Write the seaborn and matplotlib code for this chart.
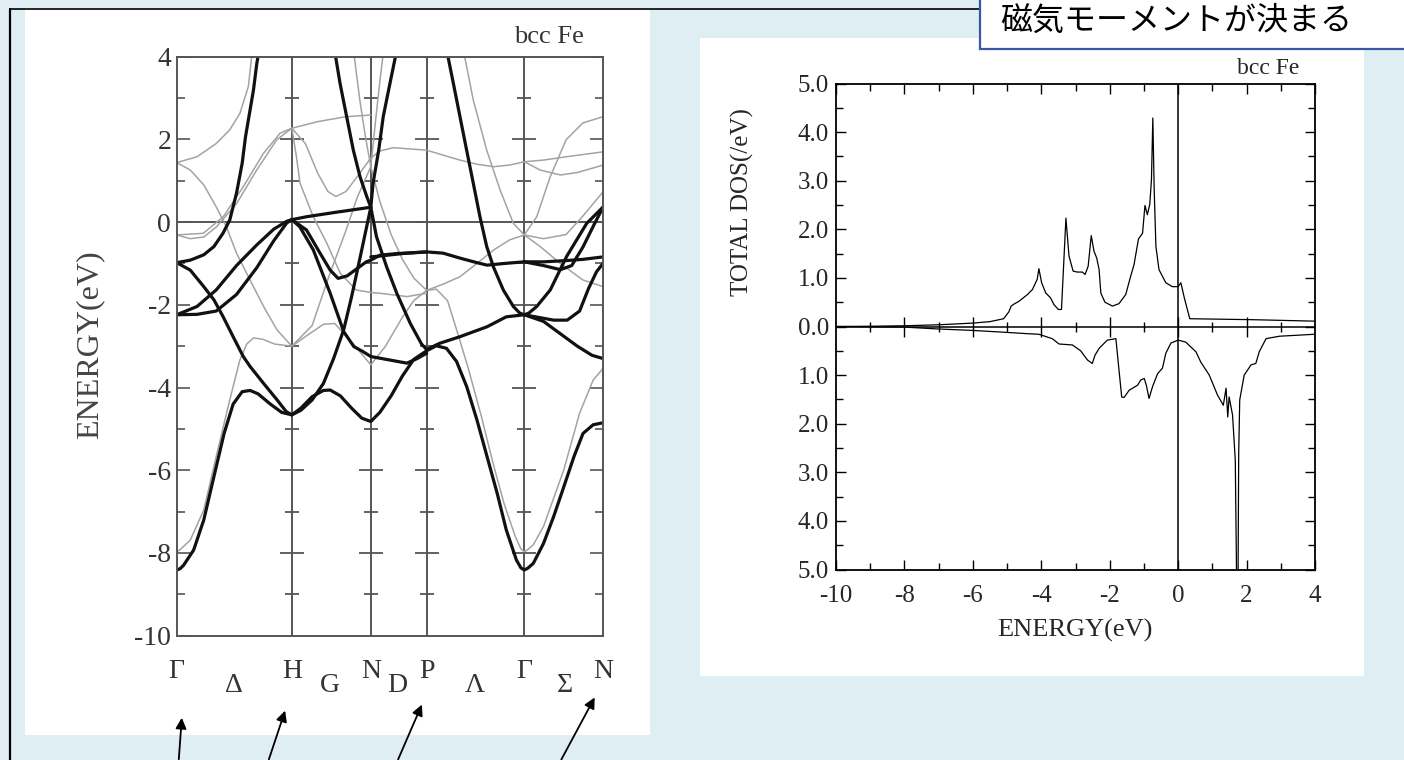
import matplotlib
matplotlib.use("Agg")
import matplotlib.pyplot as plt
import matplotlib.transforms as mtransforms
from matplotlib.patches import Rectangle, FancyArrowPatch
from matplotlib.lines import Line2D
from matplotlib.ticker import MultipleLocator, FuncFormatter
import numpy as np
import pandas as pd
import seaborn as sns

# ---------------------------------------------------------------- data
# symmetry points along the bcc path (k in 2pi/a)
K_SYM = [0.0, 1.02, 1.72, 2.215, 3.08, 3.78]
K_TOP_LABELS = ["Γ", "H", "N", "P", "Γ", "N"]
K_MID_POS = [0.508, 1.358, 1.952, 2.643, 3.441]
K_MID_LABELS = ["Δ", "G", "D", "Λ", "Σ"]

# majority-spin bands (black), (k, E[eV])
maj_1 = [(0.00, -8.41), (0.03, -8.38), (0.06, -8.30), (0.15, -7.93), (0.24, -7.20),
         (0.33, -6.15), (0.42, -5.11), (0.50, -4.40), (0.58, -4.10), (0.65, -4.07),
         (0.72, -4.15), (0.83, -4.40), (0.93, -4.60), (1.02, -4.66), (1.10, -4.50),
         (1.20, -4.22), (1.30, -4.07), (1.36, -4.06), (1.45, -4.20), (1.55, -4.50),
         (1.64, -4.74), (1.72, -4.82), (1.80, -4.60), (1.90, -4.20), (2.00, -3.72),
         (2.10, -3.32), (2.215, -3.11), (2.30, -2.99), (2.39, -3.05), (2.48, -3.37),
         (2.57, -3.98), (2.66, -4.78), (2.75, -5.67), (2.84, -6.56), (2.92, -7.44),
         (3.01, -8.17), (3.05, -8.36), (3.08, -8.41), (3.11, -8.37), (3.16, -8.25),
         (3.25, -7.77), (3.34, -7.12), (3.43, -6.40), (3.52, -5.67), (3.60, -5.11),
         (3.69, -4.90), (3.78, -4.85)]
maj_2 = [(0.00, -0.98), (0.12, -1.16), (0.24, -1.56), (0.33, -1.88), (0.41, -2.28),
         (0.50, -2.77), (0.59, -3.25), (0.65, -3.49), (0.77, -3.90), (0.89, -4.30),
         (0.97, -4.58), (1.02, -4.66), (1.10, -4.55), (1.20, -4.30), (1.30, -3.90),
         (1.39, -3.30), (1.48, -2.60), (1.55, -1.80), (1.62, -0.92), (1.72, 0.36),
         (1.74, 0.94), (1.79, 1.74), (1.83, 2.55), (1.89, 3.36), (1.95, 4.16), (1.97, 4.5)]
maj_3 = [(0.00, -0.98), (0.12, -0.92), (0.24, -0.79), (0.33, -0.59), (0.41, -0.27),
         (0.47, 0.05), (0.53, 0.70), (0.58, 1.42), (0.61, 2.07), (0.635, 2.47),
         (0.68, 3.19), (0.71, 3.84), (0.74, 4.3)]
maj_4 = [(0.00, -2.24), (0.18, -2.04), (0.35, -1.64), (0.53, -1.05), (0.71, -0.55),
         (0.86, -0.17), (0.975, 0.02), (1.02, 0.06)]
maj_5 = [(0.00, -2.24), (0.18, -2.23), (0.35, -2.15), (0.53, -1.75), (0.71, -1.10),
         (0.86, -0.45), (0.975, -0.02), (1.02, 0.06)]
maj_6 = [(1.02, 0.06), (1.15, 0.13), (1.39, 0.23), (1.72, 0.36)]
maj_7 = [(1.02, 0.06), (1.15, -0.19), (1.27, -0.75), (1.36, -1.16), (1.43, -1.36),
         (1.51, -1.30), (1.60, -1.12), (1.68, -0.96), (1.72, -0.92), (1.80, -0.80),
         (1.95, -0.76), (2.215, -0.72), (2.36, -0.75), (2.51, -0.87), (2.66, -0.98),
         (2.75, -1.04), (2.90, -1.00), (3.08, -0.96), (3.25, -0.96), (3.45, -0.93),
         (3.60, -0.90), (3.78, -0.84)]
maj_8 = [(1.72, -0.84), (1.80, -0.82), (2.00, -0.76), (2.215, -0.72)]
maj_9 = [(1.02, 0.06), (1.09, -0.11), (1.21, -0.67), (1.36, -1.72), (1.48, -2.65),
         (1.57, -3.01), (1.65, -3.13), (1.72, -3.25), (1.80, -3.29), (2.04, -3.41),
         (2.13, -3.30), (2.215, -3.17)]
maj_10 = [(1.39, 4.3), (1.447, 3.36), (1.506, 2.55), (1.565, 1.74), (1.624, 1.10),
          (1.684, 0.62), (1.72, 0.36), (1.77, -0.35), (1.86, -1.08), (1.95, -1.72),
          (2.07, -2.45), (2.17, -2.95), (2.215, -3.08), (2.33, -2.93), (2.51, -2.77),
          (2.75, -2.53), (2.92, -2.29), (3.08, -2.24), (3.25, -2.40), (3.40, -2.70),
          (3.55, -3.00), (3.68, -3.22), (3.78, -3.30)]
maj_11 = [(2.38, 4.3), (2.392, 4.16), (2.451, 3.36), (2.510, 2.55), (2.569, 1.74),
          (2.628, 0.94), (2.687, 0.13), (2.747, -0.59), (2.806, -1.08), (2.894, -1.64),
          (2.983, -2.04), (3.04, -2.20), (3.08, -2.24), (3.12, -2.20), (3.19, -2.04),
          (3.31, -1.64), (3.455, -0.83), (3.633, -0.03), (3.78, 0.37)]
maj_12 = [(3.08, -2.24), (3.20, -2.30), (3.34, -2.37), (3.46, -2.37), (3.57, -2.15),
          (3.65, -1.60), (3.72, -1.20), (3.78, -0.99)]
maj_13 = [(3.08, -0.96), (3.25, -1.05), (3.40, -1.15), (3.50, -1.05), (3.60, -0.60),
          (3.70, -0.05), (3.78, 0.37)]

# minority-spin bands (grey)
min_1 = [(0.00, -7.97), (0.03, -7.92), (0.12, -7.69), (0.24, -6.96), (0.35, -5.67),
         (0.47, -4.30), (0.56, -3.33), (0.62, -2.95), (0.68, -2.80), (0.76, -2.83),
         (0.87, -2.95), (1.02, -3.00), (1.15, -2.75), (1.30, -2.47), (1.40, -2.45),
         (1.55, -2.90), (1.72, -3.45), (1.85, -3.00), (2.00, -2.30), (2.10, -1.90),
         (2.215, -1.65), (2.30, -1.62), (2.40, -1.90), (2.48, -2.60), (2.58, -3.50),
         (2.70, -4.70), (2.80, -5.80), (2.90, -6.80), (3.00, -7.60), (3.05, -7.90),
         (3.08, -7.97), (3.11, -7.92), (3.16, -7.80), (3.25, -7.36), (3.43, -5.99),
         (3.57, -4.62), (3.69, -3.82), (3.78, -3.53)]
min_2 = [(0.00, 1.44), (0.12, 1.26), (0.24, 0.90), (0.35, 0.37), (0.44, -0.11),
         (0.53, -0.75), (0.65, -1.40), (0.77, -2.04), (0.89, -2.61), (1.02, -3.00),
         (1.20, -2.50), (1.35, -1.30), (1.50, -0.20), (1.60, 0.60), (1.72, 1.34),
         (1.76, 2.40), (1.80, 3.40), (1.84, 4.30)]
min_3 = [(0.00, 1.44), (0.18, 1.58), (0.35, 1.90), (0.47, 2.23), (0.56, 2.63),
         (0.635, 3.28), (0.664, 4.00), (0.68, 4.3)]
min_4 = [(0.00, -0.31), (0.236, -0.27), (0.413, 0.13), (0.591, 0.86), (0.768, 1.66),
         (0.916, 2.15), (1.02, 2.27)]
min_5 = [(0.00, -0.31), (0.12, -0.40), (0.24, -0.36), (0.354, -0.11), (0.531, 0.45),
         (0.709, 1.26), (0.886, 1.99), (1.02, 2.27)]
min_6 = [(1.02, 2.27), (1.25, 2.43), (1.50, 2.55), (1.72, 2.59)]
min_7 = [(1.02, 2.27), (1.14, 1.90), (1.25, 1.18), (1.34, 0.74), (1.41, 0.62),
         (1.50, 0.74), (1.60, 1.10), (1.72, 1.55), (1.80, 1.72), (1.92, 1.80),
         (2.215, 1.74), (2.36, 1.62), (2.51, 1.50), (2.66, 1.40), (2.81, 1.34),
         (2.95, 1.38), (3.08, 1.46), (3.22, 1.26), (3.40, 1.14), (3.55, 1.20), (3.78, 1.38)]
min_8 = [(3.08, 1.46), (3.25, 1.50), (3.45, 1.58), (3.78, 1.70)]
min_9 = [(1.02, 2.27), (1.06, 1.60), (1.093, 0.94), (1.21, 0.13), (1.33, -0.51),
         (1.45, -1.24), (1.59, -1.64), (1.72, -1.70), (1.80, -1.72), (2.04, -1.80),
         (2.215, -1.72)]
min_10 = [(1.56, 4.3), (1.62, 3.00), (1.67, 2.10), (1.72, 1.34), (1.80, 0.50),
          (1.90, -0.30), (2.00, -0.90), (2.10, -1.35), (2.215, -1.65), (2.36, -1.50),
          (2.51, -1.32), (2.66, -1.00), (2.81, -0.67), (2.95, -0.43), (3.08, -0.31),
          (3.22, -0.59), (3.40, -1.00), (3.60, -1.40), (3.78, -1.56)]
min_11 = [(2.52, 4.3), (2.54, 4.16), (2.628, 2.95), (2.747, 1.74), (2.865, 0.78),
          (2.983, -0.03), (3.08, -0.31), (3.19, 0.13), (3.31, 1.10), (3.45, 1.99),
          (3.60, 2.40), (3.78, 2.55)]
min_12 = [(3.08, -0.31), (3.25, -0.40), (3.45, -0.30), (3.60, 0.15), (3.78, 0.74)]

MAJORITY = [maj_1, maj_2, maj_3, maj_4, maj_5, maj_6, maj_7, maj_8, maj_9,
            maj_10, maj_11, maj_12, maj_13]
MINORITY = [min_1, min_2, min_3, min_4, min_5, min_6, min_7, min_8, min_9,
            min_10, min_11, min_12]

# total DOS, majority (upper half) and minority (lower half)
dos_up_energy = [-10.0, -9.0, -8.0, -7.0, -6.0, -5.5, -5.1, -4.95, -4.88, -4.80, -4.65,
                 -4.40, -4.26, -4.12, -4.07, -3.99, -3.87, -3.73, -3.63, -3.50, -3.41,
                 -3.28, -3.19, -3.07, -2.95, -2.80, -2.72, -2.63, -2.54, -2.46, -2.38,
                 -2.31, -2.26, -2.14, -1.92, -1.73, -1.53, -1.39, -1.29, -1.16, -1.04,
                 -0.97, -0.90, -0.83, -0.78, -0.74, -0.70, -0.65, -0.56, -0.36, -0.17,
                 0.0, 0.08, 0.18, 0.34, 2.18, 4.0]
dos_up = [0.0, 0.005, 0.015, 0.035, 0.07, 0.10, 0.16, 0.30, 0.42, 0.46, 0.52,
          0.66, 0.76, 0.97, 1.19, 0.90, 0.69, 0.59, 0.45, 0.35, 0.35,
          2.23, 1.45, 1.14, 1.12, 1.12, 1.07, 1.24, 1.87, 1.55, 1.41,
          1.17, 0.69, 0.50, 0.42, 0.47, 0.66, 1.03, 1.27, 1.80, 1.92,
          2.49, 2.30, 2.51, 3.02, 4.29, 2.82, 1.65, 1.17, 0.90, 0.82,
          0.82, 0.90, 0.59, 0.16, 0.14, 0.11]
dos_dn_energy = [-10.0, -9.0, -8.07, -7.04, -6.02, -5.04, -4.35, -4.07, -3.68, -3.48,
                 -3.09, -2.85, -2.65, -2.51, -2.43, -2.31, -2.07, -1.82, -1.65, -1.58,
                 -1.43, -1.19, -1.09, -0.99, -0.93, -0.85, -0.75, -0.60, -0.46, -0.36,
                 -0.21, 0.0, 0.22, 0.52, 0.66, 0.91, 1.15, 1.32, 1.40, 1.45, 1.49,
                 1.59, 1.67, 1.71, 1.75, 1.77, 1.80, 1.93, 2.13, 2.27, 2.37, 2.57,
                 2.96, 3.98]
dos_dn = [0.0, 0.005, 0.01, 0.05, 0.08, 0.12, 0.15, 0.16, 0.25, 0.36,
          0.38, 0.50, 0.69, 0.76, 0.59, 0.45, 0.28, 0.25, 1.45, 1.46,
          1.31, 1.21, 1.10, 1.07, 1.21, 1.48, 1.24, 0.97, 0.86, 0.55,
          0.34, 0.28, 0.32, 0.52, 0.73, 1.00, 1.41, 1.62, 1.27, 1.86, 1.45,
          1.82, 2.75, 5.3, 5.3, 2.61, 1.51, 1.00, 0.79, 0.76, 0.52, 0.25,
          0.20, 0.16]

# ---------------------------------------------------------------- layout
W, H = 1404, 760
BG = "#dfeef3"
SERIF = ["Liberation Serif", "DejaVu Serif"]


def box(x0, y0, x1, y1):
    return [x0 / W, 1 - y1 / H, (x1 - x0) / W, (y1 - y0) / H]


def bands_frame(bands, spin):
    rows = []
    for i, pts in enumerate(bands):
        for k, e in pts:
            rows.append((f"{spin}{i}", k, e))
    return pd.DataFrame(rows, columns=["band", "k", "E"])


sns.set_theme(style="white")
plt.rcParams["font.family"] = SERIF
plt.rcParams["axes.unicode_minus"] = False

fig = plt.figure(figsize=(W / 100, H / 100), dpi=100)
fig.patch.set_facecolor(BG)

# slide decoration: white picture panels, frame lines, callout box
fig.add_artist(Rectangle((25 / W, 1 - 735 / H), 625 / W, 727 / H, zorder=-5,
                         transform=fig.transFigure, facecolor="white", edgecolor="none"))
fig.add_artist(Rectangle((700 / W, 1 - 676 / H), 664 / W, 638 / H, zorder=-5,
                         transform=fig.transFigure, facecolor="white", edgecolor="none"))
fig.add_artist(Line2D([10 / W, 10 / W], [0, 1 - 9 / H], transform=fig.transFigure,
                      color="black", lw=1.6, zorder=-4))
fig.add_artist(Line2D([10 / W, 980 / W], [1 - 9 / H, 1 - 9 / H], transform=fig.transFigure,
                      color="black", lw=1.2, zorder=-4))
fig.add_artist(Rectangle((980 / W, 1 - 49 / H), 440 / W, 60 / H, zorder=5,
                         transform=fig.transFigure, facecolor="white",
                         edgecolor="#3a57a6", lw=1.6))
fig.text(1000 / W, 1 - 21 / H, "磁気モーメントが決まる", fontsize=23, zorder=6,
         family=["Noto Sans CJK JP", "DejaVu Sans"], ha="left", va="center", color="black")

# ---------------------------------------------------------------- band structure
axb = fig.add_axes(box(176.7, 56.7, 603.3, 635.7))
axb.set_facecolor("white")
FRAME = "#555555"

sns.lineplot(data=bands_frame(MINORITY, "dn"), x="k", y="E", units="band",
             estimator=None, sort=False, color="#a3a3a3", lw=1.1, ax=axb, legend=False)
sns.lineplot(data=bands_frame(MAJORITY, "up"), x="k", y="E", units="band",
             estimator=None, sort=False, color="#111111", lw=2.3, ax=axb, legend=False)

for ks in K_SYM[1:-1]:
    axb.axvline(ks, color=FRAME, lw=1.4, zorder=1)
    for e in range(-9, 4):
        axb.plot(ks, e, marker="_", ms=17 if e % 2 == 0 else 10, mew=1.3,
                 color=FRAME, zorder=1)
axb.axhline(0, color=FRAME, lw=1.4, zorder=1)

axb.set_xlim(K_SYM[0], K_SYM[-1])
axb.set_ylim(-10, 4)
axb.set_xticks([])
axb.yaxis.set_major_locator(MultipleLocator(2))
axb.yaxis.set_minor_locator(MultipleLocator(1))
axb.tick_params(axis="y", which="major", direction="in", length=9.5, width=1.2,
                color=FRAME, left=True, right=True, labelsize=20, labelcolor="#333333", pad=4)
axb.tick_params(axis="y", which="minor", direction="in", length=5.5, width=1.2,
                color=FRAME, left=True, right=True)
for sp in axb.spines.values():
    sp.set_color(FRAME)
    sp.set_linewidth(1.4)
axb.set_xlabel("")
axb.set_ylabel("")

tr = mtransforms.blended_transform_factory(axb.transData, fig.transFigure)
for ks, lab in zip(K_SYM, K_TOP_LABELS):
    axb.text(ks, 1 - 672 / H, lab, transform=tr, ha="center", va="center",
             fontsize=20, color="#333333")
for ks, lab in zip(K_MID_POS, K_MID_LABELS):
    axb.text(ks, 1 - 686 / H, lab, transform=tr, ha="center", va="center",
             fontsize=20, color="#333333")

fig.text(90 / W, 1 - 345 / H, "ENERGY(eV)", rotation=90, ha="center", va="center",
         fontsize=23, color="#444444")
fig.text(549 / W, 1 - 37 / H, "bcc Fe", ha="center", va="center", fontsize=19,
         color="#333333")

# arrows pointing at the symmetry points
for (x0, y0), (x1, y1) in [((178.6, 762), (182, 715)), ((268, 762), (286, 708)),
                           ((397, 762), (423, 702)), ((560, 762), (596, 695))]:
    fig.add_artist(FancyArrowPatch((x0 / W, 1 - y0 / H), (x1 / W, 1 - y1 / H),
                                   transform=fig.transFigure, arrowstyle="-|>",
                                   mutation_scale=16, color="black", lw=1.3, zorder=5))

# ---------------------------------------------------------------- DOS
axd = fig.add_axes(box(836, 83.5, 1315, 569.5))
axd.set_facecolor("white")
sns.lineplot(x=dos_up_energy, y=dos_up, sort=False, estimator=None,
             color="black", lw=0.9, ax=axd)
sns.lineplot(x=dos_dn_energy, y=-np.asarray(dos_dn), sort=False, estimator=None,
             color="black", lw=0.9, ax=axd)
axd.axhline(0, color="black", lw=1.1)
axd.axvline(0, color="black", lw=1.1)
for e in range(-9, 4):
    axd.plot(e, 0, marker="|", ms=14 if e % 2 == 0 else 7, mew=1.0, color="black")

axd.set_xlim(-10, 4)
axd.set_ylim(-5, 5)
axd.xaxis.set_major_locator(MultipleLocator(2))
axd.xaxis.set_minor_locator(MultipleLocator(1))
axd.yaxis.set_major_locator(MultipleLocator(1))
axd.yaxis.set_minor_locator(MultipleLocator(0.5))
axd.yaxis.set_major_formatter(FuncFormatter(lambda v, p: f"{abs(v):.1f}"))
axd.tick_params(which="major", direction="in", length=7.5, width=1.0, color="black",
                top=True, bottom=True, left=True, right=True, labelsize=18, pad=5)
axd.tick_params(axis="x", which="major", pad=11)
axd.tick_params(which="minor", direction="in", length=5, width=1.0, color="black",
                top=True, bottom=True, left=True, right=True)
for sp in axd.spines.values():
    sp.set_color("black")
    sp.set_linewidth(1.3)
axd.set_xlabel("")
axd.set_ylabel("")
fig.text(1075 / W, 1 - 630 / H, "ENERGY(eV)", ha="center", va="center", fontsize=19)
fig.text(742 / W, 1 - 202 / H, "TOTAL DOS(/eV)", rotation=90, ha="center",
         va="center", fontsize=18)
fig.text(1268 / W, 1 - 68 / H, "bcc Fe", ha="center", va="center", fontsize=17)

fig.savefig("out.png", dpi=100, facecolor=BG)
